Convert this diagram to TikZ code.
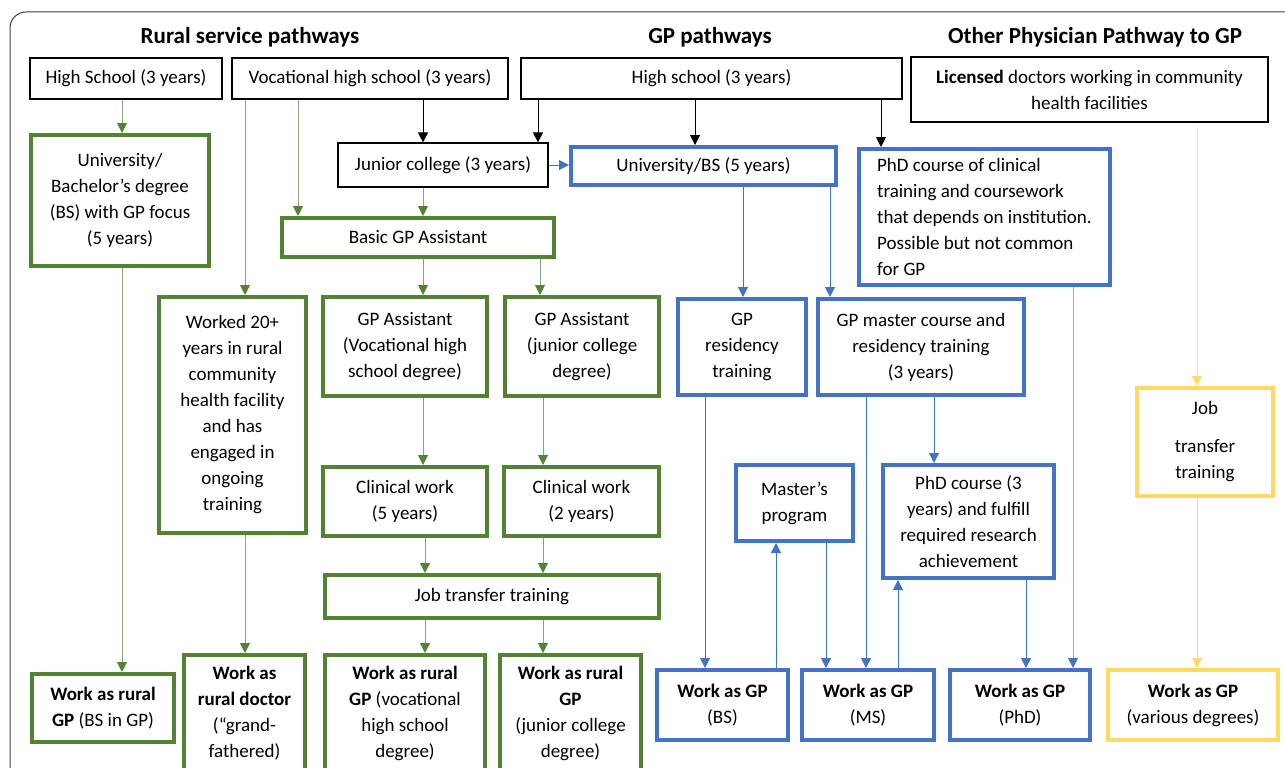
\documentclass[tikz,border=0pt]{standalone}
\usepackage{fontspec}
\setmainfont{Carlito}
\usepackage{xcolor}
\usepackage{tikz}
\usetikzlibrary{arrows.meta}
\definecolor{pathgreen}{RGB}{84,130,53}
\definecolor{pathblue}{RGB}{68,114,196}
\definecolor{paleblue}{RGB}{143,170,220}
\definecolor{pathyellow}{RGB}{255,217,102}
\definecolor{paleyellow}{RGB}{255,230,153}

\begin{document}
\begin{tikzpicture}[x=1pt, y=-1pt,
  box/.style={draw, fill=white, align=center, inner sep=3pt, font=\fontsize{19}{26}\selectfont},
  blk/.style={box, line width=1.2pt},
  grn/.style={box, draw=pathgreen, line width=4pt},
  blu/.style={box, draw=pathblue, line width=4pt},
  ylw/.style={box, draw=pathyellow, line width=4pt},
  ttl/.style={font=\fontsize{23}{26}\selectfont\bfseries},
  karr/.style={line width=1pt, -{Triangle[length=10pt,width=10pt]}},
  garr/.style={draw=pathgreen!70, line width=1pt, -{Triangle[length=10pt,width=10pt,color=pathgreen]}},
  barr/.style={draw=pathblue, line width=1pt, -{Triangle[length=10pt,width=10pt]}},
  yarr/.style={draw=pathyellow, line width=1pt, -{Triangle[length=10pt,width=10pt]}}
]
\useasboundingbox (0,0) rectangle (1285,768);
\draw[black!75, line width=1pt, rounded corners=16pt] (10,12) rectangle (1340,830);

% titles
\node[ttl] (tRural) at (250,37) {Rural service pathways};
\node[ttl] (tGP) at (710,37) {GP pathways};
\node[ttl] (tOther) at (1095,37) {Other Physician Pathway to GP};

% entry boxes
\node[blk, minimum width=192pt, minimum height=41pt] (hsA) at (126,78.5) {High School (3 years)};
\node[blk, minimum width=276pt, minimum height=41pt] (vhs) at (370,78.5) {Vocational high school (3 years)};
\node[blk, minimum width=381pt, minimum height=41pt] (hsB) at (711.5,78.5) {High school (3 years)};
\node[blk, minimum width=357pt, minimum height=65pt] (lic) at (1089.5,89.5) {\textbf{Licensed} doctors working in community\\health facilities};
\node[blk, minimum width=210pt, minimum height=44pt] (jc) at (443,165) {Junior college (3 years)};

% rural service pathways
\node[grn, minimum width=178pt, minimum height=131pt] (univ) at (120,200.5) {University/\\Bachelor’s degree\\(BS) with GP focus\\(5 years)};
\node[grn, minimum width=272pt, minimum height=39pt] (basic) at (418,237.5) {Basic GP Assistant};
\node[grn, minimum width=147pt, minimum height=236pt] (worked) at (232.5,415) {Worked 20+\\years in rural\\community\\health facility\\and has\\engaged in\\ongoing\\training};
\node[grn, minimum width=164pt, minimum height=99pt] (gpav) at (405,346.5) {GP Assistant\\(Vocational high\\school degree)};
\node[grn, minimum width=154pt, minimum height=99pt] (gpaj) at (582,346.5) {GP Assistant\\(junior college\\degree)};
\node[grn, minimum width=164pt, minimum height=69pt] (cw5) at (405,501.5) {Clinical work\\(5 years)};
\node[grn, minimum width=155pt, minimum height=69pt] (cw2) at (581.5,501.5) {Clinical work\\(2 years)};
\node[grn, minimum width=334pt, minimum height=43pt] (jtt) at (492,596.5) {Job transfer training};
\node[grn, minimum width=142pt, minimum height=68pt] (rgpbs) at (103,708) {\textbf{Work as rural}\\\textbf{GP} (BS in GP)};
\node[grn, minimum width=121pt, minimum height=116pt] (rdoc) at (244.5,713) {\textbf{Work as}\\\textbf{rural doctor}\\(“grand-\\fathered)};
\node[grn, minimum width=160pt, minimum height=116pt] (rgpv) at (405,713) {\textbf{Work as rural}\\\textbf{GP} (vocational\\high school\\degree)};
\node[grn, minimum width=141pt, minimum height=116pt] (rgpj) at (570.5,713) {\textbf{Work as rural}\\\textbf{GP}\\(junior college\\degree)};

% GP pathways
\node[blu, minimum width=265pt, minimum height=38pt] (ubs) at (703.5,166) {University/BS (5 years)};
\node[blu, minimum width=251pt, minimum height=136pt, align=left] (phdc) at (984.5,217) {PhD course of clinical\\training and coursework\\that depends on institution.\\Possible but not common\\for GP};
\node[blu, minimum width=128pt, minimum height=96pt] (res) at (742,347) {GP\\residency\\training};
\node[blu, minimum width=206pt, minimum height=96pt] (gpm) at (921,347) {GP master course and\\residency training\\(3 years)};
\node[blu, minimum width=117pt, minimum height=76pt] (mast) at (794.5,503) {Master’s\\program};
\node[blu, minimum width=171pt, minimum height=113pt] (phd3) at (968.5,521.5) {PhD course (3\\years) and fulfill\\required research\\achievement};
\node[blu, minimum width=131pt, minimum height=70pt] (wbs) at (722.5,705) {\textbf{Work as GP}\\(BS)};
\node[blu, minimum width=132pt, minimum height=70pt] (wms) at (868,705) {\textbf{Work as GP}\\(MS)};
\node[blu, minimum width=140pt, minimum height=70pt] (wphd) at (1020,705) {\textbf{Work as GP}\\(PhD)};

% other physician pathway
\node[ylw, minimum width=136pt, minimum height=108pt] (yjt) at (1205,442) {Job\\[12pt]transfer\\training};
\node[ylw, minimum width=170pt, minimum height=70pt] (wvar) at (1193,705) {\textbf{Work as GP}\\(various degrees)};

% black connectors
\draw[karr] (vhs.south -| 423,0) -- (jc.north -| 423,0);
\draw[karr] (hsB.south -| 538,0) -- (jc.north -| 538,0);
\draw[karr] (hsB.south -| 695,0) -- (ubs.north -| 695,0);
\draw[karr] (hsB.south -| 881,0) -- (phdc.north -| 881,0);

% green connectors
\draw[garr] (hsA.south -| 122,0) -- (univ.north -| 122,0);
\draw[garr] (univ.south -| 122,0) -- (rgpbs.north -| 122,0);
\draw[garr] (vhs.south -| 245,0) -- (worked.north -| 245,0);
\draw[garr] (vhs.south -| 298,0) -- (basic.north -| 298,0);
\draw[garr] (jc.south -| 423,0) -- (basic.north -| 423,0);
\draw[garr] (basic.south -| 423,0) -- (gpav.north -| 423,0);
\draw[garr] (basic.south -| 540,0) -- (gpaj.north -| 540,0);
\draw[garr] (gpav.south -| 423,0) -- (cw5.north -| 423,0);
\draw[garr] (gpaj.south -| 543,0) -- (cw2.north -| 543,0);
\draw[garr] (cw5.south -| 425,0) -- (jtt.north -| 425,0);
\draw[garr] (cw2.south -| 543,0) -- (jtt.north -| 543,0);
\draw[garr] (jtt.south -| 425,0) -- (rgpv.north -| 425,0);
\draw[garr] (jtt.south -| 543,0) -- (rgpj.north -| 543,0);
\draw[garr] (worked.south -| 245,0) -- (rdoc.north -| 245,0);

% blue connectors
\draw[barr] (jc.east) -- (jc.east -| ubs.west);
\draw[barr] (ubs.south -| 743,0) -- (res.north -| 743,0);
\draw[barr] (ubs.south -| 830,0) -- (gpm.north -| 830,0);
\draw[barr] (res.south -| 705,0) -- (wbs.north -| 705,0);
\draw[barr] (wbs.north -| 776,0) -- (mast.south -| 776,0);
\draw[barr] (mast.south -| 826,0) -- (wms.north -| 826,0);
\draw[barr] (gpm.south -| 866,0) -- (wms.north -| 866,0);
\draw[barr] (wms.north -| 898,0) -- (phd3.south -| 898,0);
\draw[barr] (gpm.south -| 934,0) -- (phd3.north -| 934,0);
\draw[barr] (phd3.south -| 1026,0) -- (wphd.north -| 1026,0);
\draw[barr, draw=paleblue, -{Triangle[length=10pt,width=10pt,color=pathblue]}] (phdc.south -| 1073,0) -- (wphd.north -| 1073,0);

% yellow connectors
\draw[yarr, draw=paleyellow, -{Triangle[length=10pt,width=10pt,color=pathyellow]}, shorten <=4pt] (lic.south -| 1197,0) -- (yjt.north -| 1197,0);
\draw[yarr] (yjt.south -| 1197,0) -- (wvar.north -| 1197,0);
\end{tikzpicture}
\end{document}
